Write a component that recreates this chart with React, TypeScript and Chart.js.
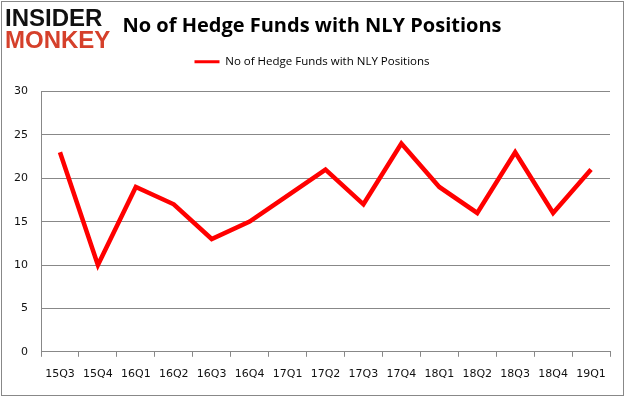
import React, { useEffect, useRef } from "react";
import { Chart, registerables } from "chart.js";

Chart.register(...registerables);

const categories = ["15Q3", "15Q4", "16Q1", "16Q2", "16Q3", "16Q4", "17Q1", "17Q2", "17Q3", "17Q4", "18Q1", "18Q2", "18Q3", "18Q4", "19Q1"];
const hedgeFunds = [23, 10, 19, 17, 13, 15, 18, 21, 17, 24, 19, 16, 23, 16, 21];
const seriesName = "No of Hedge Funds with NLY Positions";
const chartTitle = "No of Hedge Funds with NLY Positions";
const yMin = 0;
const yMax = 30;
const yStep = 5;

const legendSpacer = {
  id: "legendSpacer",
  beforeInit(chart: any) {
    const legend = chart.legend;
    if (!legend) return;
    const origFit = legend.fit;
    legend.fit = function () {
      origFit.call(this);
      this.height += 14;
    };
  },
};

export default function App() {
  const canvasRef = useRef<HTMLCanvasElement | null>(null);

  useEffect(() => {
    document.body.style.margin = "0";
    const canvas = canvasRef.current;
    if (!canvas) return;
    const gridColor = "#888888";
    const chart = new Chart(canvas, {
      type: "line",
      data: {
        labels: categories,
        datasets: [
          {
            label: seriesName,
            data: hedgeFunds,
            borderColor: "#ff0000",
            backgroundColor: "#ff0000",
            borderWidth: 4.5,
            pointRadius: 0,
            pointHoverRadius: 0,
            tension: 0,
            fill: false,
          },
        ],
      },
      options: {
        responsive: false,
        animation: false,
        devicePixelRatio: 1,
        layout: { padding: { left: 14, right: 16, top: 0, bottom: 5 } },
        plugins: {
          tooltip: { enabled: false },
          title: {
            display: true,
            text: chartTitle,
            color: "#000000",
            font: { family: "'Open Sans', sans-serif", size: 20, weight: "bold", lineHeight: 1 },
            padding: { top: 16, bottom: 10 },
          },
          legend: {
            display: true,
            position: "top",
            labels: {
              color: "#000000",
              font: { family: "'Open Sans', sans-serif", size: 11.5 },
              usePointStyle: true,
              pointStyle: "line",
              pointStyleWidth: 25,
              padding: 10,
              generateLabels: (c: any) => {
                const items = Chart.defaults.plugins.legend.labels.generateLabels(c);
                return items.map((it: any) => ({ ...it, lineWidth: 3, pointStyle: "line", strokeStyle: "#ff0000" }));
              },
            },
          },
        },
        scales: {
          x: {
            type: "category",
            offset: true,
            grid: {
              display: true,
              offset: true,
              drawOnChartArea: false,
              drawTicks: true,
              tickLength: 5,
              color: gridColor,
            },
            border: { display: true, color: gridColor, width: 1 },
            ticks: {
              color: "#111111",
              font: { family: "'DejaVu Sans', sans-serif", size: 11 },
              padding: 11,
              maxRotation: 0,
              autoSkip: false,
            },
          },
          y: {
            min: yMin,
            max: yMax,
            grid: { color: gridColor, drawTicks: false },
            border: { display: true, color: gridColor, width: 1 },
            afterFit: (scale: any) => {
              scale.width = 27;
            },
            ticks: {
              stepSize: yStep,
              color: "#111111",
              font: { family: "'DejaVu Sans', sans-serif", size: 11 },
              padding: 13,
            },
          },
        },
      },
      plugins: [legendSpacer],
    });
    return () => chart.destroy();
  }, []);

  return (
    <div style={{ position: "relative", width: 626, height: 397, background: "#ffffff", overflow: "hidden" }}>
      <canvas ref={canvasRef} width={626} height={397} style={{ position: "absolute", left: 0, top: 0 }} />
      <div
        style={{
          position: "absolute",
          left: 1,
          top: 1,
          width: 623,
          height: 395,
          boxSizing: "border-box",
          border: "1px solid #888888",
          pointerEvents: "none",
        }}
      />
      <div
        style={{
          position: "absolute",
          left: 5,
          top: 7,
          fontFamily: "'Liberation Sans', Arial, sans-serif",
          fontWeight: "bold",
          fontSize: 24,
          lineHeight: "22px",
          letterSpacing: 0,
        }}
      >
        <div style={{ color: "#111111" }}>INSIDER</div>
        <div style={{ color: "#d5402b" }}>MONKEY</div>
      </div>
    </div>
  );
}
